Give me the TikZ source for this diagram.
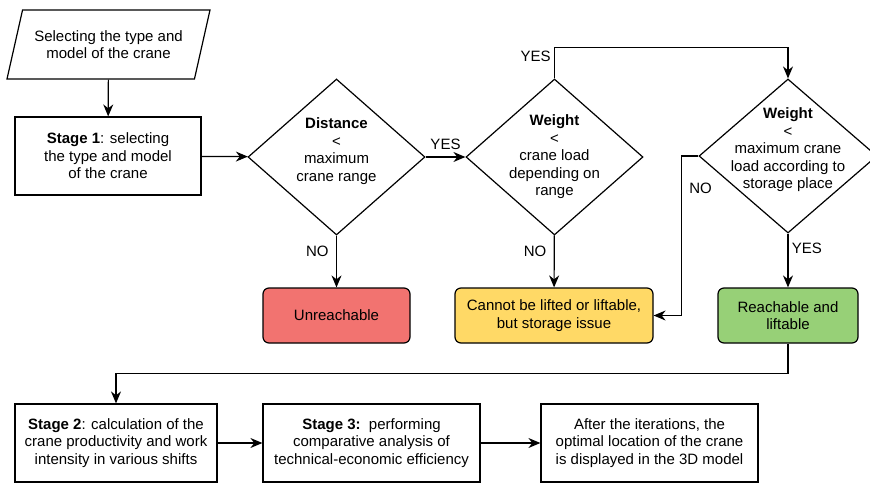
\documentclass[tikz,border=0pt]{standalone}
\usepackage{fontspec}
\setmainfont{Liberation Sans}
\usetikzlibrary{positioning,shapes.geometric,arrows.meta}

\definecolor{unreachred}{HTML}{F27370}
\definecolor{issueyellow}{HTML}{FFD966}
\definecolor{okgreen}{HTML}{97D077}

\begin{document}
\begin{tikzpicture}[x=1pt, y=-1pt, line width=1.2pt,
    font=\fontsize{15}{17.5}\selectfont,
    >={Stealth[length=12pt,width=10pt]},
    stagebox/.style={draw, rectangle, align=center, inner sep=2pt},
    resultbox/.style={draw, rectangle, rounded corners=6pt, align=center, inner sep=2pt, minimum height=55pt},
    decision/.style={draw, diamond, inner sep=0pt},
    dtext/.style={align=center, inner sep=0pt}]
    \useasboundingbox (0,0) rectangle (870,485);

    % Start
    \node[draw, trapezium, trapezium left angle=63, trapezium right angle=117,
          trapezium stretches body, minimum width=203pt, minimum height=69pt,
          align=center, inner sep=1pt] (input) at (108.5,44.5)
          {Selecting the type and\\model of the crane};

    % Stage 1
    \node[stagebox, minimum width=186pt, minimum height=78pt] (stage1) at (108,156)
          {\textbf{Stage 1}: selecting\\the type and model\\of the crane};

    % Decisions
    \node[decision, minimum width=177pt, minimum height=156pt,
          label={[dtext, yshift=6pt]center:{\textbf{Distance}\\<\\maximum\\crane range}}] (distance) at (336.5,157) {};
    \node[decision, minimum width=177pt, minimum height=156pt,
          label={[dtext]center:{\textbf{Weight}\\<\\crane load\\depending on\\range}}] (weightA) at (554.5,157) {};
    \node[decision, minimum width=178pt, minimum height=154pt,
          label={[dtext, yshift=6pt]center:{\textbf{Weight}\\<\\maximum crane\\load according to\\storage place}}] (weightB) at (788,156) {};

    % Results
    \node[resultbox, fill=unreachred, minimum width=147pt] (unreach) at (336.5,315.5) {Unreachable};
    \node[resultbox, fill=issueyellow, minimum width=198pt] (cannot) at (554,315.5)
          {Cannot be lifted or liftable,\\but storage issue};
    \node[resultbox, fill=okgreen, minimum width=140pt] (reach) at (788,315.5)
          {Reachable and\\liftable};

    % Stages 2 and 3
    \node[stagebox, minimum width=202pt, minimum height=78pt] (stage2) at (116,443)
          {\textbf{Stage 2}: calculation of the\\crane productivity and work\\intensity in various shifts};
    \node[stagebox, minimum width=217pt, minimum height=78pt] (stage3) at (371.5,443)
          {\textbf{Stage 3:}\ \ performing\\comparative analysis of\\technical-economic efficiency};
    \node[stagebox, minimum width=217pt, minimum height=78pt] (final) at (649.5,443)
          {After the iterations, the\\optimal location of the crane\\is displayed in the 3D model};

    % Connectors
    \draw[->] (input) -- (stage1);
    \draw[->] (stage1) -- (distance);
    \draw[->] (distance) -- node[above=3pt] (yesA) {YES} (weightA);
    \draw[->] (weightA.north) -- node[left, pos=0.7] (yesB) {YES} ++(0,-31) -| (weightB.north);
    \draw[->] (distance) -- node[left=4pt, pos=0.3] (noA) {NO} (unreach);
    \draw[->] (weightA) -- node[left=4pt, pos=0.3] (noB) {NO} (cannot);
    \draw[->] (weightB.west) -- ++(-17,0) |- node[right=4pt, pos=0.1] (noC) {NO} (cannot.east);
    \draw[->] (weightB) -- node[right=0pt, pos=0.27] (yesC) {YES} (reach);
    \draw[->] (reach.south) -- ++(0,30) -| (stage2.north);
    \draw[->] (stage2) -- (stage3);
    \draw[->] (stage3) -- (final);
\end{tikzpicture}
\end{document}
